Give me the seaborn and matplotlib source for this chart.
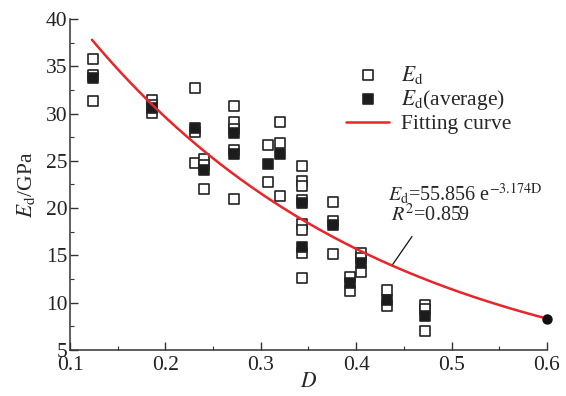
import numpy as np
import pandas as pd
import matplotlib
matplotlib.use("Agg")
import matplotlib.pyplot as plt
import seaborn as sns

# Individual dynamic elastic modulus measurements
d_single = [0.124, 0.124, 0.124,
            0.186, 0.186, 0.186,
            0.231, 0.231, 0.231,
            0.240, 0.240, 0.240,
            0.272, 0.272, 0.272, 0.272, 0.272,
            0.308, 0.308,
            0.320, 0.320, 0.320,
            0.343, 0.343, 0.343, 0.343, 0.343, 0.343, 0.343, 0.343,
            0.376, 0.376, 0.376,
            0.394, 0.394,
            0.405, 0.405, 0.405,
            0.432, 0.432,
            0.472, 0.472, 0.472]
ed_single = [35.8, 34.1, 31.3,
             31.4, 30.9, 30.1,
             32.7, 28.1, 24.8,
             25.2, 24.6, 22.0,
             30.8, 29.1, 28.4, 26.2, 21.0,
             26.7, 22.8,
             29.1, 26.9, 21.3,
             24.5, 22.9, 22.3, 20.9, 18.3, 17.7, 15.3, 12.6,
             20.6, 18.6, 15.1,
             12.7, 11.2,
             15.3, 14.7, 13.2,
             11.3, 9.7,
             9.8, 9.3, 7.0]

# Group averages
d_avg = [0.124, 0.186, 0.231, 0.240, 0.272, 0.272, 0.308, 0.320,
         0.343, 0.343, 0.376, 0.394, 0.405, 0.432, 0.472]
ed_avg = [33.8, 30.6, 28.5, 24.0, 27.9, 25.7, 24.7, 25.7,
          20.5, 15.9, 18.2, 12.1, 14.2, 10.3, 8.6]

# Exponential fit  Ed = a * exp(-b * D)
fit_a = 55.856
fit_b = 3.174
fit_r2 = 0.859
fit_range = (0.123, 0.6)

x_ticks = [0.1, 0.2, 0.3, 0.4, 0.5, 0.6]
y_ticks = [5, 10, 15, 20, 25, 30, 35, 40]

FS = 15.5

sns.set_style("ticks")
plt.rcParams["font.family"] = ["Liberation Serif", "DejaVu Serif"]
plt.rcParams["mathtext.fontset"] = "stix"
plt.rcParams["font.size"] = FS

fig = plt.figure(figsize=(5.66, 3.96), dpi=100)
ax = fig.add_axes([0.1237, 0.1162, 0.8427, 0.8358])

df_single = pd.DataFrame({"D": d_single, "Ed": ed_single})
df_avg = pd.DataFrame({"D": d_avg, "Ed": ed_avg})
d_fit = np.linspace(fit_range[0], fit_range[1], 300)
df_fit = pd.DataFrame({"D": d_fit, "Ed": fit_a * np.exp(-fit_b * d_fit)})

edge = "#222222"
sns.scatterplot(data=df_single, x="D", y="Ed", ax=ax, marker="s", s=46,
                facecolor="white", edgecolor=edge, linewidth=1.2,
                label=r"$E_\mathrm{d}$", zorder=3)
sns.scatterplot(data=df_avg, x="D", y="Ed", ax=ax, marker="s", s=46,
                color="#1c1c1c", edgecolor=edge, linewidth=1.2,
                label=r"$E_\mathrm{d}$(average)", zorder=4)
sns.lineplot(data=df_fit, x="D", y="Ed", ax=ax, color="#e8262a", lw=1.8,
             label="Fitting curve", zorder=5)
ax.plot([fit_range[1]], [fit_a * np.exp(-fit_b * fit_range[1])], "o",
        color="#111111", ms=6.5, zorder=6, clip_on=False)

# Fit equation with leader line to the curve
d_lead = 0.4375
ax.annotate("", xy=(d_lead, fit_a * np.exp(-fit_b * d_lead)),
            xytext=(0.4585, 17.0),
            arrowprops=dict(arrowstyle="-", color="#111111", lw=0.9,
                            shrinkA=0, shrinkB=0))
ax.text(0.4330, 21.5, r"$E_\mathrm{d}$=55.856 e$^{-3.174\mathrm{D}}$",
        fontsize=14.5, va="center", ha="left")
ax.text(0.4360, 19.3, r"$R^2$=%.3f" % fit_r2, fontsize=14.5,
        va="center", ha="left")

ax.set_xlim(0.1, 0.6)
ax.set_ylim(5, 40)
ax.set_xticks(x_ticks)
ax.set_xticklabels([f"{t:.1f}" for t in x_ticks])
ax.set_yticks(y_ticks)
ax.set_xticks(np.arange(0.15, 0.6, 0.1), minor=True)
ax.set_yticks(np.arange(7.5, 40, 5), minor=True)
ax.tick_params(which="major", direction="in", length=6, width=1,
               color="#333333", labelsize=FS, labelcolor="#222222", pad=2)
ax.tick_params(axis="x", which="major", pad=4)
ax.tick_params(which="minor", direction="in", length=3, width=0.8,
               color="#333333")
for side in ("top", "right"):
    ax.spines[side].set_visible(False)
for side in ("left", "bottom"):
    ax.spines[side].set_color("#333333")
    ax.spines[side].set_linewidth(1.1)

ax.set_xlabel(r"$D$", fontsize=FS, labelpad=-1)
ax.set_ylabel(r"$E_\mathrm{d}$/GPa", fontsize=FS, labelpad=6)

ax.legend(loc="upper left", bbox_to_anchor=(0.579, 0.865), frameon=False,
          borderpad=0, borderaxespad=0, handlelength=2.0,
          handletextpad=0.55, labelspacing=0.1, fontsize=FS)

fig.savefig("out.png", dpi=100)
